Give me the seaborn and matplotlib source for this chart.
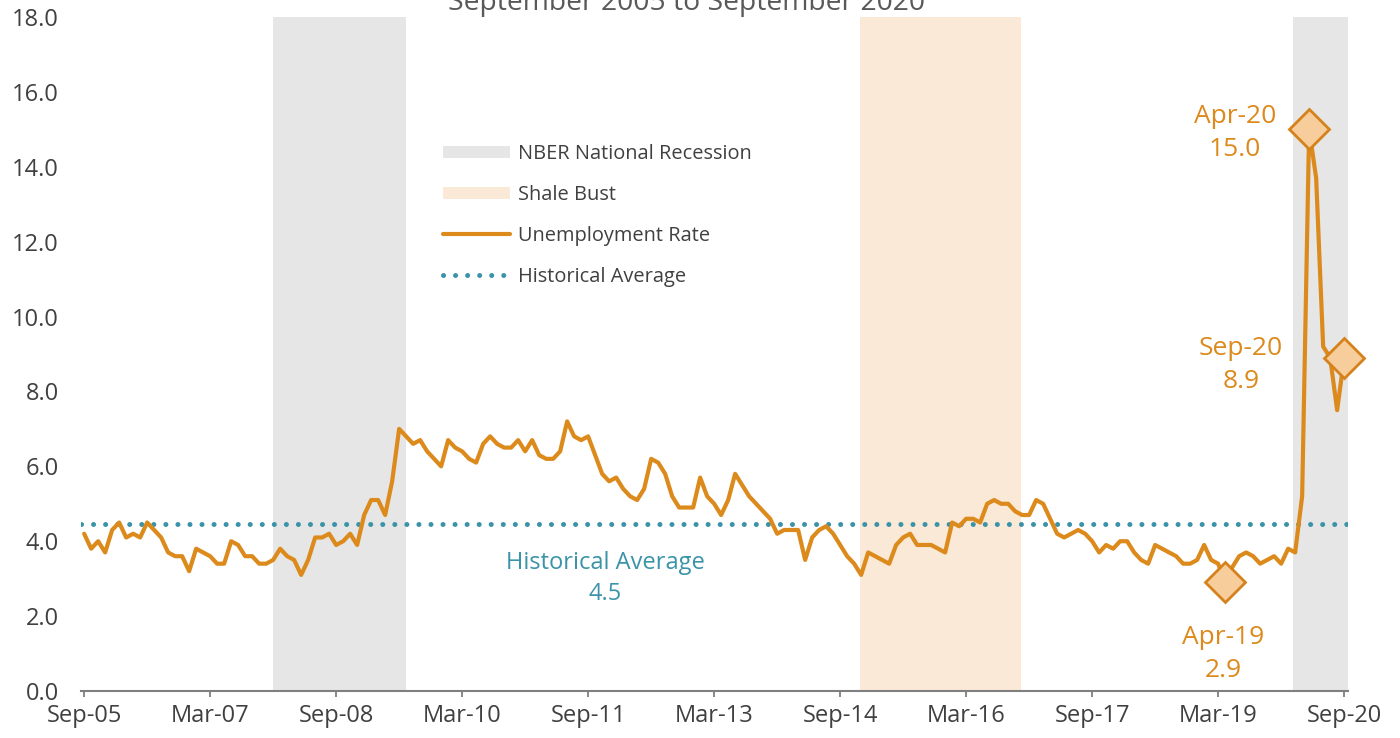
import numpy as np
import pandas as pd
import matplotlib
matplotlib.use("Agg")
import matplotlib.pyplot as plt
import seaborn as sns
from matplotlib.lines import Line2D
from matplotlib.patches import Patch

# ---------------- data ----------------
rate = [
    4.2, 3.8, 4.0, 3.7, 4.3, 4.5, 4.1, 4.2, 4.1, 4.5, 4.3, 4.1, 3.7, 3.6, 3.6, 3.2, 3.8, 3.7,
    3.6, 3.4, 3.4, 4.0, 3.9, 3.6, 3.6, 3.4, 3.4, 3.5, 3.8, 3.6, 3.5, 3.1, 3.5, 4.1, 4.1, 4.2,
    3.9, 4.0, 4.2, 3.9, 4.7, 5.1, 5.1, 4.7, 5.6, 7.0, 6.8, 6.6, 6.7, 6.4, 6.2, 6.0, 6.7, 6.5,
    6.4, 6.2, 6.1, 6.6, 6.8, 6.6, 6.5, 6.5, 6.7, 6.4, 6.7, 6.3, 6.2, 6.2, 6.4, 7.2, 6.8, 6.7,
    6.8, 6.3, 5.8, 5.6, 5.7, 5.4, 5.2, 5.1, 5.4, 6.2, 6.1, 5.8, 5.2, 4.9, 4.9, 4.9, 5.7, 5.2,
    5.0, 4.7, 5.1, 5.8, 5.5, 5.2, 5.0, 4.8, 4.6, 4.2, 4.3, 4.3, 4.3, 3.5, 4.1, 4.3, 4.4, 4.2,
    3.9, 3.6, 3.4, 3.1, 3.7, 3.6, 3.5, 3.4, 3.9, 4.1, 4.2, 3.9, 3.9, 3.9, 3.8, 3.7, 4.5, 4.4,
    4.6, 4.6, 4.5, 5.0, 5.1, 5.0, 5.0, 4.8, 4.7, 4.7, 5.1, 5.0, 4.6, 4.2, 4.1, 4.2, 4.3, 4.2,
    4.0, 3.7, 3.9, 3.8, 4.0, 4.0, 3.7, 3.5, 3.4, 3.9, 3.8, 3.7, 3.6, 3.4, 3.4, 3.5, 3.9, 3.5,
    3.4, 2.9, 3.3, 3.6, 3.7, 3.6, 3.4, 3.5, 3.6, 3.4, 3.8, 3.7, 5.2, 15.0, 13.7, 9.2, 8.9, 7.5,
    8.9,
]
dates = pd.date_range("2005-09-01", periods=len(rate), freq="MS")
month_idx = np.arange(len(rate))

tick_pos = [0, 18, 36, 54, 72, 90, 108, 126, 144, 162, 180]
tick_labels = ["Sep-05", "Mar-07", "Sep-08", "Mar-10", "Sep-11", "Mar-13",
               "Sep-14", "Mar-16", "Sep-17", "Mar-19", "Sep-20"]
y_ticks = [0, 2, 4, 6, 8, 10, 12, 14, 16, 18]

hist_avg = 4.45
hist_avg_label = "4.5"
recession_spans = [(27.0, 46.0), (172.7, 180.9)]
shale_spans = [(110.8, 133.8)]
highlight_idx = [175, 180, 163]          # Apr-20, Sep-20, Apr-19
highlight_names = ["Apr-20", "Sep-20", "Apr-19"]

# ---------------- style ----------------
ORANGE = "#DC8A1C"
MARK_FILL = "#F6CD9B"
MARK_EDGE = "#D5821D"
TEAL = "#3A93A8"
GRAY_BAND = "#E6E6E6"
SHALE_BAND = "#FAE9D6"
TXT = "#404040"

sns.set_theme(style="white")
plt.rcParams["font.family"] = ["Open Sans", "DejaVu Sans"]

W, H = 1400, 738
fig = plt.figure(figsize=(W / 100, H / 100), dpi=100)
ax = fig.add_axes([81 / W, 47 / H, (1348 - 81) / W, (691 - 17) / H])

df = pd.DataFrame({"month": month_idx, "rate": rate, "date": dates})

for a, b in recession_spans:
    ax.axvspan(a, b, color=GRAY_BAND, lw=0, zorder=0)
for a, b in shale_spans:
    ax.axvspan(a, b, color=SHALE_BAND, lw=0, zorder=0)

dot_style = (0, (0.01, 2.4))
ax.axhline(hist_avg, color=TEAL, lw=3.6, linestyle=dot_style,
           dash_capstyle="round", zorder=2)

sns.lineplot(data=df, x="month", y="rate", ax=ax, color=ORANGE, lw=3,
             zorder=3, legend=False)

hx = [month_idx[i] for i in highlight_idx]
hy = [rate[i] for i in highlight_idx]
ax.plot(hx, hy, linestyle="none", marker="D", ms=20, mfc=MARK_FILL,
        mec=MARK_EDGE, mew=2, zorder=4, clip_on=False)

# annotations (offsets in pixels)
offsets = [(-74, -3.5), (-103, -7), (-2, -71.5)]
for i, name, off in zip(highlight_idx, highlight_names, offsets):
    ax.annotate(f"{name}\n{rate[i]:.1f}", xy=(month_idx[i], rate[i]),
                xytext=off, textcoords="offset pixels", ha="center",
                va="center", fontsize=19, color=ORANGE, linespacing=1.42)

ax.annotate(f"Historical Average\n{hist_avg_label}", xy=(74.4, hist_avg),
            xytext=(0, -54), textcoords="offset pixels", ha="center",
            va="center", fontsize=17, color=TEAL, linespacing=1.42)

ax.set_xlim(-0.45, 180.55)
ax.set_ylim(0, 18)
ax.set_xticks(tick_pos)
ax.set_xticklabels(tick_labels)
ax.set_yticks(y_ticks)
ax.set_yticklabels([f"{v:.1f}" for v in y_ticks])
ax.set_xlabel("")
ax.set_ylabel("")

for s in ["left", "right", "top"]:
    ax.spines[s].set_visible(False)
ax.spines["bottom"].set_color("#7F7F7F")
ax.spines["bottom"].set_linewidth(1.5)
ax.tick_params(axis="y", length=0, pad=16, labelsize=17, labelcolor=TXT)
ax.tick_params(axis="x", direction="out", length=4.5, width=1.3,
               color="#7F7F7F", pad=5, labelsize=17, labelcolor=TXT, bottom=True)

handles = [
    Patch(facecolor=GRAY_BAND, edgecolor="none"),
    Patch(facecolor=SHALE_BAND, edgecolor="none"),
    Line2D([], [], color=ORANGE, lw=3),
    Line2D([], [], color=TEAL, lw=3.6, linestyle=dot_style, dash_capstyle="round"),
]
labels = ["NBER National Recession", "Shale Bust", "Unemployment Rate", "Historical Average"]
leg = ax.legend(handles, labels, loc="upper left",
                bbox_to_anchor=(443 / W, 1 - 144 / H), bbox_transform=fig.transFigure,
                frameon=False, fontsize=14.4, handlelength=3.35, handleheight=0.6,
                handletextpad=0.4, labelspacing=1.05, borderpad=0, borderaxespad=0)
for t in leg.get_texts():
    t.set_color(TXT)

fig.text(686 / W, 1 - 10 / H, "September 2005 to September 2020", ha="center",
         va="baseline", fontsize=20.3, color="#595959")

fig.savefig("out.png", dpi=100)
